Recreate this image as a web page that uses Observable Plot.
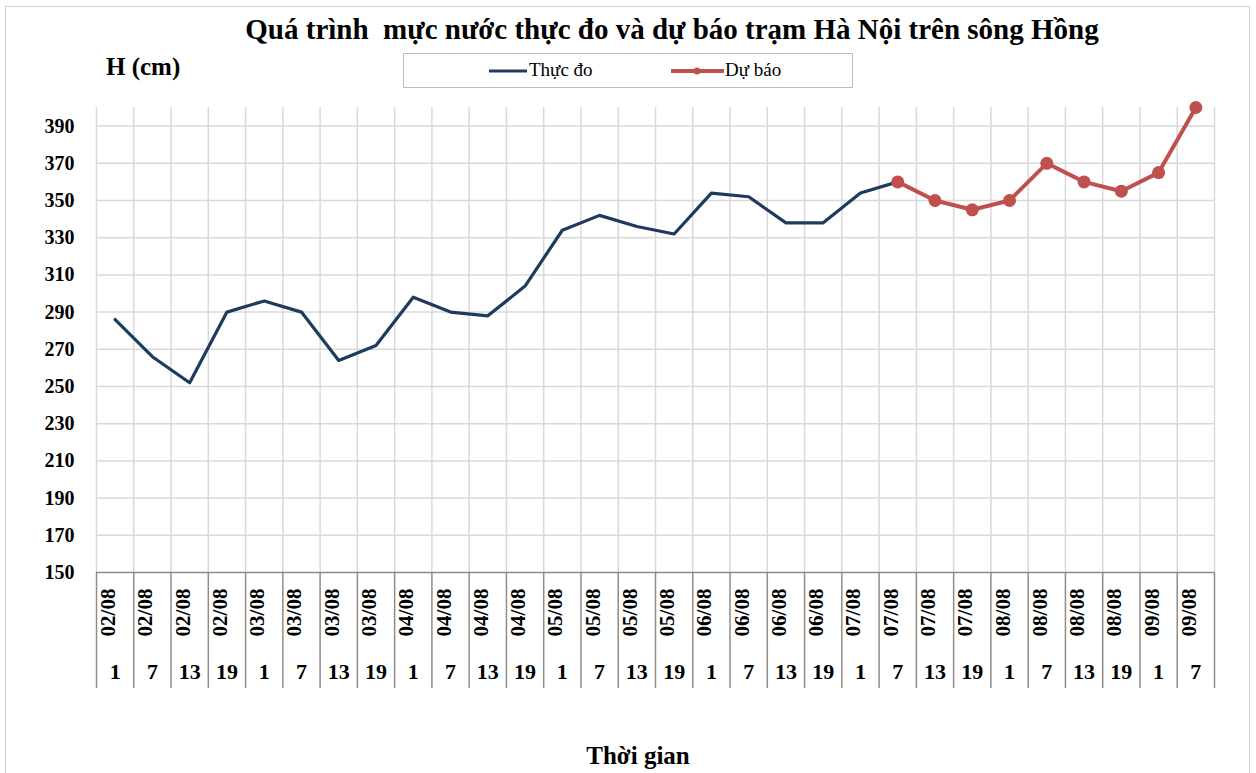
<!DOCTYPE html>
<html><head><meta charset="utf-8">
<script src="https://cdn.jsdelivr.net/npm/d3@7"></script>
<script src="https://cdn.jsdelivr.net/npm/@observablehq/plot@0.6"></script>
<style>
body{margin:0;background:#fff;font-family:"Liberation Serif","Times New Roman",serif;}
#wrap{position:relative;width:1256px;height:773px;overflow:hidden;background:#fff;}
#frame{position:absolute;left:5px;top:6px;width:1243px;height:820px;border:1.5px solid #cfcfcf;pointer-events:none;}
#header{position:relative;height:100px;}
#title{position:absolute;left:0;width:1344px;top:13px;text-align:center;font-weight:bold;font-size:29px;color:#000;white-space:pre;}
#ylab{position:absolute;left:106px;top:53px;font-weight:bold;font-size:25px;}
#legend{position:absolute;left:403px;top:53px;width:448px;height:33px;border:1.5px solid #bdbdbd;font-size:19px;}
.item{position:absolute;top:5px;display:flex;align-items:center;}
#xlab{position:absolute;left:0;width:1276px;top:742px;text-align:center;font-weight:bold;font-size:25px;}
#chart{position:absolute;left:0;top:100px;}
</style></head>
<body>
<div id="wrap">
  <div id="header">
    <div id="title"></div>
    <div id="ylab"></div>
    <div id="legend"></div>
  </div>
  <div id="chart"></div>
  <div id="xlab"></div>
  <div id="frame"></div>
</div>
<script>
const titleText = "Quá trình  mực nước thực đo và dự báo trạm Hà Nội trên sông Hồng";
const yLabel = "H (cm)";
const xLabel = "Thời gian";
const seriesNames = ["Thực đo", "Dự báo"];
const seriesColors = ["#1f3a60", "#c0504d"];
const dates = ["02/08","02/08","02/08","02/08","03/08","03/08","03/08","03/08",
  "04/08","04/08","04/08","04/08","05/08","05/08","05/08","05/08",
  "06/08","06/08","06/08","06/08","07/08","07/08","07/08","07/08",
  "08/08","08/08","08/08","08/08","09/08","09/08"];
const hours = [1,7,13,19,1,7,13,19,1,7,13,19,1,7,13,19,1,7,13,19,1,7,13,19,1,7,13,19,1,7];
const observed = [286,266,252,290,296,290,264,272,298,290,288,304,334,342,336,332,354,352,338,338,354,360];
const forecastStart = 21;
const forecast = [360,350,345,350,370,360,355,365,400];
const yTicks = [150,170,190,210,230,250,270,290,310,330,350,370,390];

document.getElementById("title").textContent = titleText;
document.getElementById("ylab").textContent = yLabel;
document.getElementById("xlab").textContent = xLabel;
const lg = document.getElementById("legend");
lg.innerHTML =
  `<div class="item" style="left:85px"><svg width="40" height="20"><line x1="0" y1="11" x2="38" y2="11" stroke="${seriesColors[0]}" stroke-width="3"/></svg><span>${seriesNames[0]}</span></div>` +
  `<div class="item" style="left:267px"><svg width="54" height="20"><line x1="0" y1="11" x2="53" y2="11" stroke="${seriesColors[1]}" stroke-width="4"/><circle cx="26" cy="11" r="3.5" fill="${seriesColors[1]}"/></svg><span>${seriesNames[1]}</span></div>`;

const cats = dates.map((d, i) => ({i, date: d, hour: hours[i]}));
const obsData = observed.map((v, i) => ({x: i + 0.5, v}));
const fcData = forecast.map((v, i) => ({x: forecastStart + i + 0.5, v}));
const n = dates.length;
const font = '"Liberation Serif","Times New Roman",serif';

const chart = Plot.plot({
  width: 1256,
  height: 673,
  marginLeft: 96,
  marginRight: 42,
  marginTop: 7,
  marginBottom: 201,
  style: {fontFamily: font, background: "transparent"},
  x: {type: "linear", domain: [0, n], axis: null},
  y: {domain: [150, 400], axis: null},
  marks: [
    Plot.ruleY(yTicks.slice(1), {stroke: "#d9d9d9", strokeWidth: 1.5}),
    Plot.ruleX(d3.range(0, n + 1), {y1: 150, y2: 400, stroke: "#d9d9d9", strokeWidth: 1.5}),
    Plot.ruleY([150], {stroke: "#8c8c8c", strokeWidth: 1.5}),
    Plot.axisX(d3.range(0, n + 1), {tickSize: 116, tickFormat: () => "", label: null, stroke: "#8c8c8c", strokeWidth: 1.5}),
    Plot.axisY(yTicks, {tickSize: 0, tickPadding: 22, fontSize: 20, fontWeight: "bold", fill: "#000", label: null}),
    Plot.text(cats, {x: d => d.i + 0.5, frameAnchor: "bottom", dy: 40, rotate: -90, text: "date", fontSize: 21, fontWeight: "bold", fill: "#000", textAnchor: "middle"}),
    Plot.text(cats, {x: d => d.i + 0.5, frameAnchor: "bottom", dy: 106, text: d => String(d.hour), fontSize: 22, fontWeight: "bold", fill: "#000"}),
    Plot.line(obsData, {x: "x", y: "v", stroke: seriesColors[0], strokeWidth: 3.2}),
    Plot.line(fcData, {x: "x", y: "v", stroke: seriesColors[1], strokeWidth: 4}),
    Plot.dot(fcData, {x: "x", y: "v", r: 6.5, fill: seriesColors[1]})
  ]
});
document.getElementById("chart").appendChild(chart);
</script>
</body></html>
